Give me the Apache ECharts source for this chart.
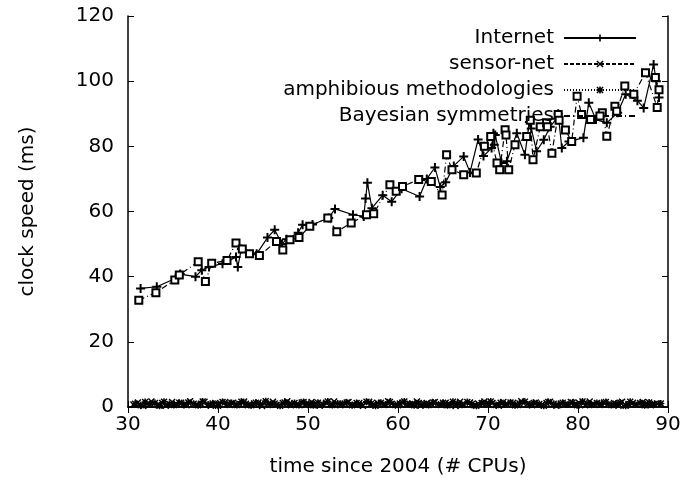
<!DOCTYPE html>
<html>
<head>
<meta charset="utf-8">
<script src="https://cdn.jsdelivr.net/npm/echarts@6/dist/echarts.min.js"></script>
<style>
html, body { margin: 0; padding: 0; background: #fff; }
#chart { width: 686px; height: 488px; }
</style>
</head>
<body>
<div id="chart"></div>
<script>
// clock speed vs. time since 2004
var seriesNames = ['Internet', 'sensor-net', 'amphibious methodologies', 'Bayesian symmetries'];
var xTicks = [30, 40, 50, 60, 70, 80, 90];
var yTicks = [0, 20, 40, 60, 80, 100, 120];

var internetX = [31.4,33.2,35.3,35.8,37.5,38.2,39.0,40.5,42.0,42.2,42.6,44.3,45.5,46.3,47.1,47.6,48.9,49.4,50.5,52.3,
	53.0,55.0,56.2,56.4,56.6,57.1,58.3,59.3,60.4,62.4,63.2,64.1,64.7,65.3,66.2,67.3,68.0,68.9,69.5,70.4,
	70.6,70.7,70.8,71.5,72.1,73.2,74.1,74.6,74.8,75.4,76.2,76.9,77.6,77.8,78.2,79.0,80.6,81.2,82.0,83.2,
	84.4,85.3,86.6,87.3,88.4,88.7,89.0];
var internetY = [36.4,36.9,39.5,40.8,40.0,42.0,43.0,44.0,46.0,43.0,48.5,47.0,52.0,54.4,50.0,51.5,53.5,55.9,56.0,58.0,
	60.8,59.0,58.5,64.0,68.8,61.0,65.0,63.0,67.0,64.6,70.0,73.5,67.5,69.0,74.0,76.9,72.0,82.1,77.0,79.5,
	84.0,80.5,83.5,74.9,75.4,84.0,77.4,87.5,85.5,78.5,82.0,86.0,88.5,90.0,79.5,81.5,82.6,93.4,88.2,87.2,
	90.3,96.0,94.0,91.8,105.1,100.0,95.0];

var sensorX = [30.6,31.1,31.7,32.2,32.6,33.3,33.8,34.2,34.9,35.4,35.9,36.5,36.9,37.6,38.1,38.5,39.2,39.7,40.1,40.8,
	41.3,41.7,42.4,42.9,43.3,44.0,44.5,44.9,45.6,46.1,46.5,47.2,47.7,48.1,48.8,49.3,49.7,50.4,50.9,51.3,
	52.0,52.5,52.9,53.6,54.1,54.5,55.2,55.7,56.1,56.8,57.3,57.7,58.4,58.9,59.3,60.0,60.5,60.9,61.6,62.1,
	62.5,63.2,63.7,64.1,64.8,65.3,65.7,66.4,66.9,67.3,68.0,68.5,68.9,69.6,70.1,70.5,71.2,71.7,72.1,72.8,
	73.3,73.7,74.4,74.9,75.3,76.0,76.5,76.9,77.6,78.1,78.5,79.2,79.7,80.1,80.8,81.3,81.7,82.4,82.9,83.3,
	84.0,84.5,84.9,85.6,86.1,86.5,87.2,87.7,88.1,88.8];
var sensorY = [0.8,1.4,0.3,1.1,1.7,0.6,1.2,0.4,1.5,0.9,1.3,0.5,1.8,0.7,1.0,1.6,0.4,1.2,0.8,1.5,
	0.6,1.3,0.9,1.7,0.5,1.1,1.4,0.3,1.0,1.6,0.7,1.2,1.8,0.5,0.9,1.4,0.6,1.5,1.1,0.4,
	1.3,0.8,1.7,0.5,1.0,1.5,0.7,1.2,0.4,1.6,0.9,1.3,0.6,1.8,1.0,0.5,1.4,0.8,1.1,1.7,
	0.4,1.2,0.9,1.5,0.6,1.3,1.0,0.3,1.6,0.8,1.4,0.5,1.1,1.7,0.7,1.2,0.4,1.5,0.9,1.3,
	0.6,1.8,1.0,0.5,1.4,0.8,1.2,1.6,0.4,1.1,0.7,1.5,0.9,1.3,0.5,1.7,1.0,0.6,1.4,0.8,
	1.2,0.4,1.6,0.9,1.3,0.7,1.5,1.0,0.5,1.1];

var amphibX = [30.8,31.4,31.9,32.4,33.0,33.5,34.0,34.6,35.1,35.7,36.2,36.7,37.3,37.8,38.3,38.9,39.4,40.0,40.5,41.0,
	41.5,42.1,42.6,43.1,43.7,44.2,44.7,45.3,45.8,46.3,46.9,47.4,47.9,48.5,49.0,49.5,50.1,50.6,51.1,51.7,
	52.2,52.7,53.3,53.8,54.3,54.9,55.4,55.9,56.5,57.0,57.5,58.1,58.6,59.1,59.7,60.2,60.7,61.3,61.8,62.3,
	62.9,63.4,63.9,64.5,65.0,65.5,66.1,66.6,67.1,67.7,68.2,68.7,69.3,69.8,70.3,70.9,71.4,71.9,72.5,73.0,
	73.5,74.1,74.6,75.1,75.7,76.2,76.7,77.3,77.8,78.3,78.9,79.4,79.9,80.5,81.0,81.5,82.1,82.6,83.1,83.7,
	84.2,84.7,85.3,85.8,86.3,86.9,87.4,87.9,88.5,89.2];
var amphibY = [1.0,0.5,1.5,0.8,1.2,0.4,1.6,0.9,0.6,1.3,0.7,1.4,1.0,0.5,1.7,0.8,1.1,0.4,1.5,0.9,
	1.2,0.6,1.6,1.0,0.5,1.3,0.8,1.8,0.7,1.1,0.4,1.4,0.9,1.2,0.6,1.5,1.0,0.5,1.3,0.8,
	1.7,0.6,1.1,0.9,1.4,0.5,1.2,0.7,1.6,1.0,0.4,1.3,0.8,1.5,0.6,1.1,1.7,0.9,0.5,1.2,
	1.0,0.6,1.4,0.8,1.3,0.5,1.6,1.1,0.7,1.5,0.9,0.4,1.2,1.0,1.7,0.6,1.3,0.8,1.4,0.5,
	1.1,1.6,0.7,1.2,0.9,0.4,1.5,1.0,0.6,1.3,0.8,1.4,0.5,1.7,1.1,0.7,1.2,0.9,1.5,0.6,
	1.0,1.3,0.4,1.6,0.8,1.2,0.5,1.4,0.9,1.1];

var bayesX = [31.2,33.1,35.2,35.7,37.8,38.6,39.3,41.0,42.0,42.7,43.5,44.6,46.5,47.2,48.0,49.0,50.2,52.2,53.2,54.8,
	56.5,57.3,59.1,59.8,60.5,62.3,63.7,64.9,65.4,66.0,67.3,68.7,69.6,70.3,71.0,71.3,71.9,72.0,72.3,73.0,
	74.3,74.7,75.0,75.8,76.5,76.6,77.1,77.8,77.9,78.6,79.3,79.9,80.4,81.4,82.7,83.2,84.1,84.3,85.2,86.2,
	87.5,88.8,89.0,88.6];
var bayesY = [32.8,35.1,39.0,40.5,44.6,38.5,44.1,45.0,50.3,48.5,47.0,46.5,50.8,48.2,51.3,52.0,55.5,58.0,53.8,56.5,
	59.0,59.3,68.2,66.2,67.7,69.8,69.2,65.1,77.4,72.8,71.3,71.8,80.0,83.0,74.9,72.8,85.1,83.5,72.8,80.5,
	83.0,88.0,75.9,86.0,87.2,86.0,77.9,89.8,88.0,85.0,81.5,95.4,89.8,88.2,90.3,83.1,92.3,90.8,98.5,96.0,
	102.6,91.9,97.4,101.1];

var FONT = 'DejaVu Sans';
var PLUS = 'path://M3.5,0h2v9h-2z M0,3.5h9v2h-9z';
var CROSS = 'path://M0,1.3L1.3,0L9,7.7L7.7,9z M7.7,0L9,1.3L1.3,9L0,7.7z';
var STAR = 'path://M3.5,0h2v9h-2z M0,3.5h9v2h-9z M0,1.3L1.3,0L9,7.7L7.7,9z M7.7,0L9,1.3L1.3,9L0,7.7z';

function pairs(xs, ys) {
	var out = [];
	for (var i = 0; i < xs.length; i++) {
		out.push([xs[i], ys[i]]);
	}
	return out;
}

function makeSeries(name, xs, ys, symbol, size, dash, lw, bw) {
	return {
		name: name,
		type: 'line',
		data: pairs(xs, ys),
		symbol: symbol,
		symbolSize: size,
		showAllSymbol: true,
		lineStyle: { color: '#000', width: lw, type: dash },
		itemStyle: { color: '#000', borderColor: '#000', borderWidth: bw }
	};
}

var axisBase = function(pos, ticks) {
	return {
		type: 'value',
		position: pos,
		min: ticks[0],
		max: ticks[ticks.length - 1],
		interval: ticks[1] - ticks[0],
		splitLine: { show: false },
		axisLine: { show: true, lineStyle: { color: '#000', width: 1.5 } },
		axisTick: { show: true, inside: true, length: 6, lineStyle: { color: '#000' } }
	};
};

var xMain = axisBase('bottom', xTicks);
xMain.axisLabel = { color: '#000', fontFamily: FONT, fontSize: 20, margin: 8 };
xMain.name = 'time since 2004 (# CPUs)';
xMain.nameLocation = 'middle';
xMain.nameGap = 50;
xMain.nameTextStyle = { color: '#000', fontFamily: FONT, fontSize: 20 };
var xTop = axisBase('top', xTicks);
xTop.axisLabel = { show: false };

var yMain = axisBase('left', yTicks);
yMain.axisLabel = { color: '#000', fontFamily: FONT, fontSize: 20, margin: 14 };
yMain.name = 'clock speed (ms)';
yMain.nameLocation = 'middle';
yMain.nameGap = 90;
yMain.nameTextStyle = { color: '#000', fontFamily: FONT, fontSize: 20 };
var yRight = axisBase('right', yTicks);
yRight.axisLabel = { show: false };

var chart = echarts.init(document.getElementById('chart'));
chart.setOption({
	animation: false,
	backgroundColor: '#fff',
	grid: { left: 128, right: 18, top: 16, bottom: 81, containLabel: false },
	legend: {
		data: seriesNames,
		orient: 'vertical',
		align: 'right',
		right: 44,
		top: 23,
		itemWidth: 72,
		itemHeight: 9,
		itemGap: 6,
		textStyle: { color: '#000', fontFamily: FONT, fontSize: 20, lineHeight: 20, padding: [0, 5, 0, 0] }
	},
	xAxis: [xMain, xTop],
	yAxis: [yMain, yRight],
	series: [
		makeSeries(seriesNames[0], internetX, internetY, PLUS, 9, 'solid', 1.2, 0),
		makeSeries(seriesNames[1], sensorX, sensorY, CROSS, 7, [4, 2], 1.5, 0),
		makeSeries(seriesNames[2], amphibX, amphibY, STAR, 7, [1, 2], 1.5, 0),
		makeSeries(seriesNames[3], bayesX, bayesY, 'emptyRect', 7, [6, 3, 1, 3], 1.2, 1.5)
	]
});
</script>
</body>
</html>
